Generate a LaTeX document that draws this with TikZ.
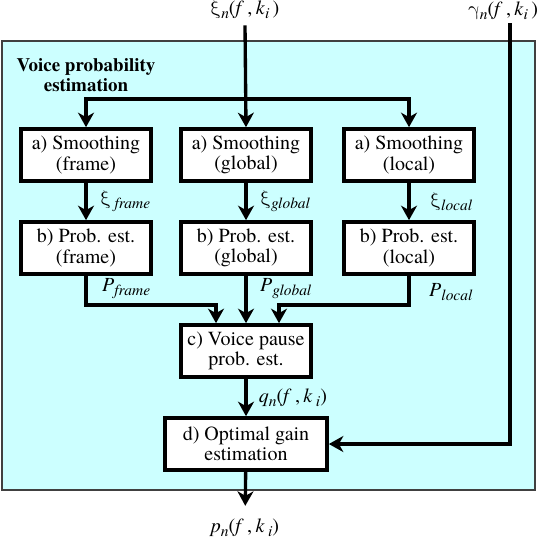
\documentclass[tikz,border=0pt]{standalone}
\usepackage{fontspec}
\usepackage{unicode-math}
\setmainfont{texgyretermes}[Extension=.otf, UprightFont=*-regular,
    BoldFont=*-bold, ItalicFont=*-italic, BoldItalicFont=*-bolditalic]
\usepackage{xcolor}
\usepackage{tikz}
\usetikzlibrary{arrows.meta}
\definecolor{cyanbg}{RGB}{204,255,255}
\newcommand{\lsub}[1]{\raisebox{-0.45ex}{\fontsize{8.8}{9}\selectfont\itshape #1}}
\newcommand{\gxi}{$\symup{\xi}$}
\newcommand{\ggamma}{$\symup{\gamma}$}

\begin{document}
\begin{tikzpicture}[x=0.02cm, y=-0.02cm,
    every node/.style={font=\fontsize{11.4}{11.6}\selectfont},
    blockbox/.style={draw, line width=2.1pt, fill=white, minimum width=2.6cm,
        minimum height=1.04cm, align=center, inner sep=1pt},
    flow/.style={line width=1.9pt, -{Stealth[length=2.9mm, width=3.2mm, inset=0.9mm]}}]
    \useasboundingbox (0,0) rectangle (543,542);
    \draw[fill=cyanbg, draw=black!75, line width=0.8pt] (2,41) rectangle (535,490);

    \node[align=center, font=\fontsize{10.8}{11.6}\selectfont\bfseries] at (86,75) (title) {Voice probability\\estimation};

    \node at (245,10) (xi) {\gxi\lsub{n}(\textit{f}\,,\,\textit{k}\lsub{i}\,)};
    \node at (503,11) (gam) {\ggamma\lsub{n}(\textit{f}\,,\,\textit{k}\lsub{i}\,)};
    \coordinate (br) at (245,99);
    \coordinate (gtop) at (510,23);

    \node[blockbox] at (86,155) (sa1) {a) Smoothing\\(frame)};
    \node[blockbox] at (246,155) (sa2) {a) Smoothing\\(global)};
    \node[blockbox] at (409,155) (sa3) {a) Smoothing\\(local)};

    \node[blockbox] at (86,248) (pb1) {b) Prob. est.\\(frame)};
    \node[blockbox] at (246,248) (pb2) {b) Prob. est.\\(global)};
    \node[blockbox] at (409,248) (pb3) {b) Prob. est.\\(local)};

    \node[blockbox] at (246,351) (vp) {c) Voice pause\\prob. est.};
    \node[blockbox, minimum width=3.24cm] at (246,444) (og) {d) Optimal gain\\estimation};
    \node at (245,528) (pn) {\textit{p}\lsub{n}(\textit{f}\,,\,\textit{k}\,\lsub{i})};

    \coordinate (jl) at (216,305);
    \coordinate (jr) at (279,305);

    % inputs
    \draw[flow] (xi.south) -- (sa2.north);
    \draw[flow] (br) -| (sa1.north);
    \draw[flow] (br) -| (sa3.north);
    \draw[flow] (gtop) |- (og.east);

    % smoothing to probability
    \draw[flow] (sa1) -- node[anchor=west, xshift=4pt] {\gxi\,\lsub{frame}} (pb1);
    \draw[flow] (sa2) -- node[anchor=west, xshift=4pt] {\gxi\lsub{global}} (pb2);
    \draw[flow] (sa3) -- node[anchor=west, xshift=8pt] {\gxi\lsub{local}} (pb3);

    % probabilities to voice pause
    \draw[flow] (pb1.south) |- (jl) -- (jl |- vp.north);
    \draw[flow] (pb2) -- (vp);
    \draw[flow] (pb3.south) |- (jr) -- (jr |- vp.north);
    \node[anchor=west] at (96,289) (lpf) {\textit{P}\lsub{frame}};
    \node[anchor=west] at (254,289) (lpg) {\textit{P}\lsub{global}};
    \node[anchor=west] at (423,292) (lpl) {\textit{P}\lsub{local}};

    \draw[flow] (vp) -- node[anchor=west, xshift=3pt] {\textit{q}\lsub{n}(\textit{f}\,,\,\textit{k}\,\lsub{i})} (og);
    \draw[flow, shorten >=4pt] (og) -- (pn);
\end{tikzpicture}
\end{document}
